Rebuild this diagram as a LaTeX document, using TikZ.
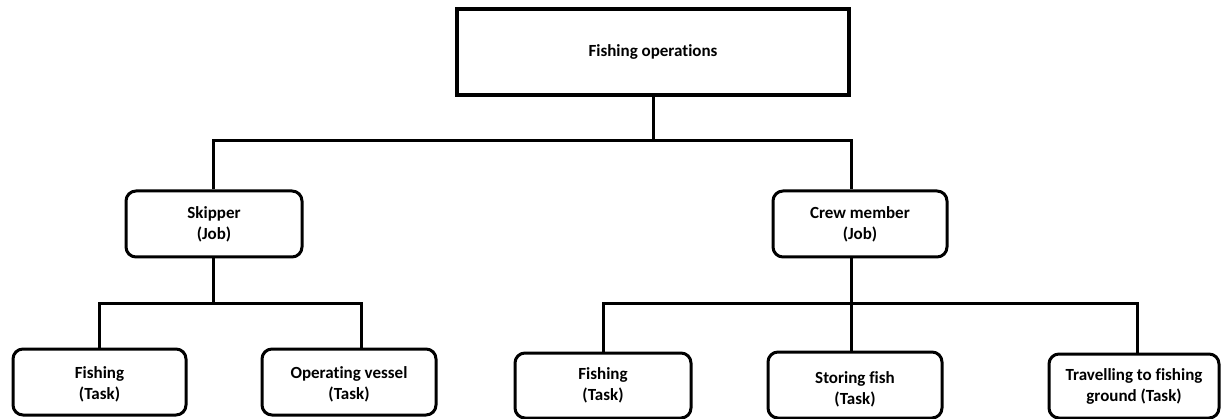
\documentclass[tikz,border=0pt]{standalone}
\usepackage{fontspec}
\setmainfont{Carlito}[Ligatures={NoCommon}]
\begin{document}
\begin{tikzpicture}[x=1pt,y=-1pt,
  box/.style={draw, line width=3pt, rounded corners=10pt, align=center,
    inner sep=0pt, font=\fontsize{17}{21}\selectfont\bfseries},
  rootbox/.style={box, rounded corners=0pt, line width=3.5pt},
  conn/.style={line width=3pt}]
\useasboundingbox (0,0) rectangle (1222,419);

% hierarchy boxes
\node[rootbox, minimum width=392pt, minimum height=86pt] (root) at (653,52) {Fishing operations};
\node[box, minimum width=176pt, minimum height=66pt] (skipper) at (214,224) {Skipper\\(Job)};
\node[box, minimum width=174pt, minimum height=66pt] (crew) at (860,224) {Crew member\\(Job)};
\node[box, minimum width=173pt, minimum height=66pt] (fish1) at (99.5,382) {\rule{0pt}{16pt}Fishing\\(Task)};
\node[box, minimum width=174pt, minimum height=66pt] (vessel) at (349,382) {\rule{0pt}{16pt}Operating vessel\\(Task)};
\node[box, minimum width=176pt, minimum height=65pt] (fish2) at (603,385.5) {Fishing\\(Task)};
\node[box, minimum width=174pt, minimum height=66pt] (store) at (855,385) {\rule{0pt}{20pt}Storing fish\\(Task)};
\node[box, minimum width=170pt, minimum height=64pt] (travel) at (1134,386) {Travelling to fishing\\ground (Task)};

% bus junctions
\coordinate (busA) at (653,141);
\coordinate (busB) at (213,303);
\coordinate (busC) at (851,303);

% connectors
\draw[conn] (root.south) -- (busA);
\draw[conn] ([xshift=-1pt]skipper.north) |- (busA) -| ([xshift=-9pt]crew.north);
\draw[conn] ([xshift=-1pt]skipper.south) -- (busB);
\draw[conn] (fish1.north) |- (busB) -| ([xshift=12pt]vessel.north);
\draw[conn] ([xshift=-9pt]crew.south) -- (busC);
\draw[conn] (fish2.north) |- (busC) -| ([xshift=3pt]travel.north);
\draw[conn] ([xshift=-4pt]store.north) -- ([xshift=-4pt]store.north |- busC);
\end{tikzpicture}
\end{document}
